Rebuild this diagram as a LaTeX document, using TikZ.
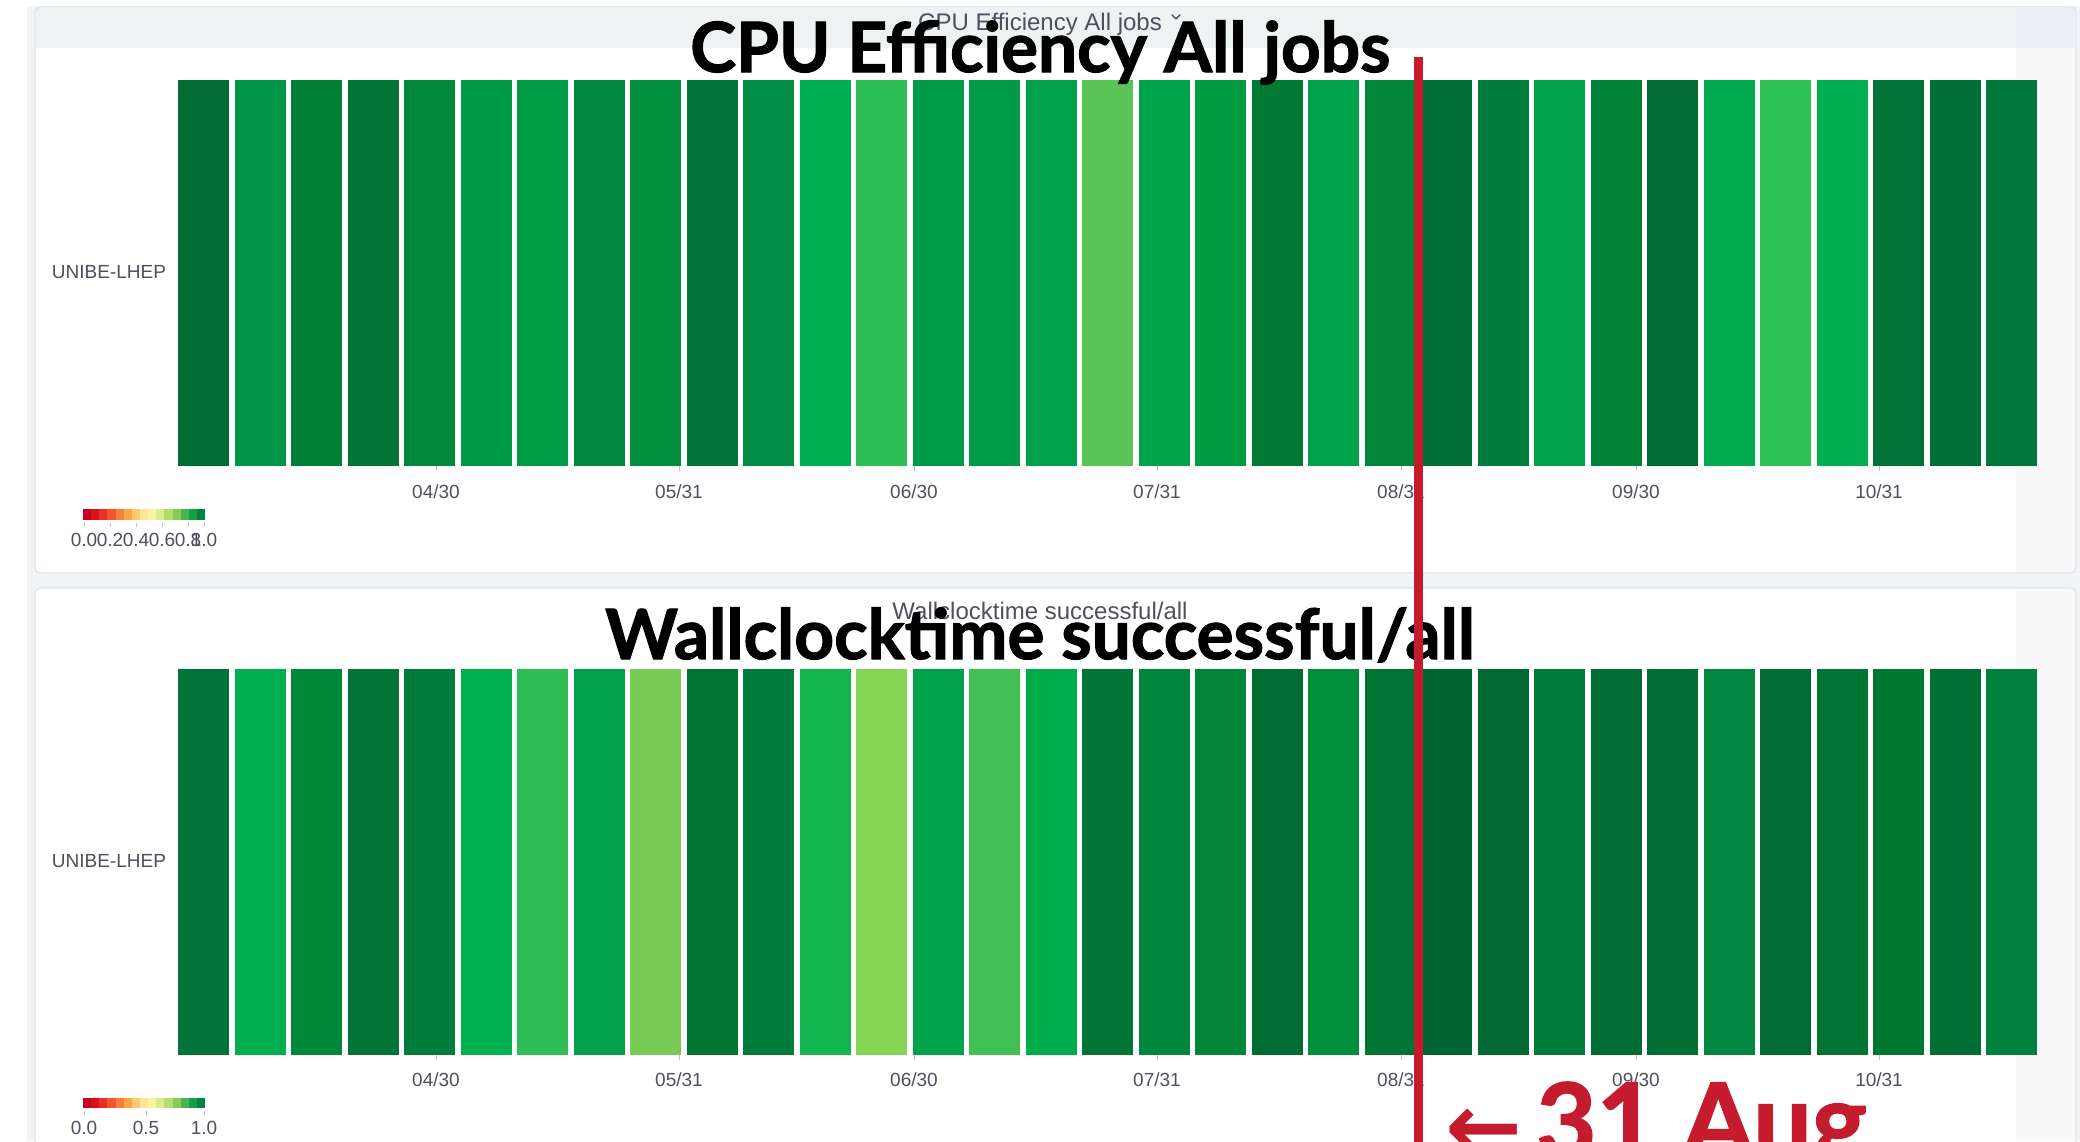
\documentclass[tikz,border=0pt]{standalone}
\usepackage{fontspec}
\usepackage{graphicx}
\setmainfont{Liberation Sans}
\newfontfamily\headfont{Lato}[BoldFeatures={FakeBold=1.6}]
\newfontfamily\symfont{DejaVu Sans}

\definecolor{pagegray}{HTML}{F3F4F8}
\definecolor{panelline}{HTML}{DFE2E7}
\definecolor{headband}{HTML}{EEF2F3}
\definecolor{sidestrip}{HTML}{F9F9FA}
\definecolor{sidehead}{HTML}{ECEFF4}
\definecolor{labelgray}{HTML}{4E505C}
\definecolor{tickgray}{HTML}{BFC3C8}
\definecolor{markred}{HTML}{C51B2E}

\tikzset{
  panel/.style={fill=white, draw=panelline, line width=1.3pt, rounded corners=5pt},
  smalltitle/.style={font=\fontsize{24}{28}\selectfont, text=labelgray, inner sep=0pt},
  bigtitle/.style={font=\headfont\bfseries, text=black, inner sep=0pt},
  axislabel/.style={font=\fontsize{19}{22}\selectfont, text=labelgray, inner sep=0pt},
  sitelabel/.style={font=\fontsize{19}{22}\selectfont, text=labelgray, inner sep=0pt},
  legendlabel/.style={font=\fontsize{19}{22}\selectfont, text=labelgray, inner sep=0pt},
  legendtick/.style={draw=tickgray, line width=1pt},
  marker/.style={draw=markred, line width=9pt},
}

\begin{document}
\begin{tikzpicture}[x=1pt,y=-1pt]
\useasboundingbox (0,0) rectangle (2080,1141);
\clip (0,0) rectangle (2080,1141);

% page background
\fill[white] (0,0) rectangle (2080,1141);
\fill[pagegray] (27,6) rectangle (2080,1141);

% ---------- upper panel ----------
\fill[white, rounded corners=5pt] (35,7) rectangle (2076,573);
\fill[headband] (36,8) rectangle (2016,48);
\fill[sidehead] (2016,8) rectangle (2075,48);
\fill[sidestrip] (2016,48) rectangle (2075,572);
\draw[panel, fill=none] (35,7) rectangle (2076,573);

% ---------- lower panel ----------
\fill[white, rounded corners=5pt] (35,588) rectangle (2076,1170);
\fill[sidestrip] (2016,589) rectangle (2075,1141);
\draw[panel, fill=none] (35,588) rectangle (2076,1170);

% heat-map cells, CPU efficiency
\foreach \c [count=\i from 0] in {006b35,009648,007f37,007535,00883c,009a48,009c46,00893f,008d3c,00743a,008c43,00b050,2dbd55,009b48,009b48,00a04c,5bc456,00a44a,009a40,007a35,00a24c,008539,006e38,007c3c,00a24c,008239,006b33,00ab4f,2ebf55,00ae50,007336,006f37,00773a}{
  \definecolor{cellc}{HTML}{\c}
  \fill[cellc] ({178+\i*56.5},80) rectangle ({229+\i*56.5},466);
}

% heat-map cells, wallclock time
\foreach \c [count=\i from 0] in {00733a,00b050,008737,007535,007d3c,00b24f,2fbd55,00a04c,78cc55,007532,007d3c,13b54d,84d455,00a24c,40c055,00ab4c,007535,00853d,008539,006c32,008e3b,007533,006532,006a32,007c38,006b33,006e32,008840,006c33,007534,007730,006f33,00803d}{
  \definecolor{cellc}{HTML}{\c}
  \fill[cellc] ({178+\i*56.5},669) rectangle ({229+\i*56.5},1055);
}

% date axes
\foreach \x/\t [count=\k] in {436/04\slash 30,679/05\slash 31,914/06\slash 30,1157/07\slash 31,1401/08\slash 31,1636/09\slash 30,1879/10\slash 31}{
  \draw[legendtick] (\x,466) -- (\x,471);
  \draw[legendtick] (\x,1055) -- (\x,1060);
  \node[axislabel] (topdate\k) at (\x,492) {\t};
  \node[axislabel] (botdate\k) at (\x,1080) {\t};
}

% row labels
\node[sitelabel] (site top) at (109,272) {UNIBE-LHEP};
\node[sitelabel] (site bottom) at (109,861) {UNIBE-LHEP};

% panel titles
\node[smalltitle, anchor=base] (cpu small) at (1040,30) {CPU Efficiency All jobs};
\draw[labelgray, line width=1.4pt, line cap=round, line join=round]
  ([xshift=10pt,yshift=9pt]cpu small.east) -- ++(4,4) -- ++(4,-4);
\node[smalltitle, anchor=base] (wall small) at (1040,619) {Wallclocktime successful/all};

\node[bigtitle, anchor=base west] (cpu big) at (690,72)
  {\resizebox{700pt}{!}{CPU Efficiency All jobs}};
\node[bigtitle, anchor=base west] (wall big) at (605,659)
  {\resizebox{869pt}{!}{Wallclocktime successful/all}};

% colour legends
\foreach \c [count=\j from 0] in {c8001e,d7131f,e83026,f2552d,f87f36,fba64c,fdc86f,fde796,f6f4a4,d8ee8c,b2de6a,86cb59,4ab54f,13a04a,00853d}{
  \definecolor{stepc}{HTML}{\c}
  \fill[stepc] ({83+\j*8.14},509) rectangle ({83+(\j+1)*8.14+0.3},520);
  \fill[stepc] ({83+\j*8.14},1098) rectangle ({83+(\j+1)*8.14+0.3},1108);
}
\foreach \x/\t [count=\k] in {84/0.0,110/0.2,136/0.4,162/0.6,188/0.8,204/1.0}{
  \draw[legendtick] (\x,523) -- (\x,527);
  \node[legendlabel] (topleg\k) at (\x,540) {\t};
}
\foreach \x/\t [count=\k] in {84/0.0,146/0.5,204/1.0}{
  \draw[legendtick] (\x,1111) -- (\x,1115);
  \node[legendlabel] (botleg\k) at (\x,1128) {\t};
}

% red date marker
\coordinate (mark top) at (1418.5,57);
\coordinate (mark bottom) at (1418.5,1150);
\draw[marker] (mark top) -- (mark bottom);
\node[anchor=base west, inner sep=0pt, text=markred] (aug) at (1445,1158)
  {{\symfont\bfseries\fontsize{92}{92}\selectfont ←}\kern14pt{\headfont\bfseries\fontsize{104}{104}\selectfont 31 Aug}};
\end{tikzpicture}
\end{document}
